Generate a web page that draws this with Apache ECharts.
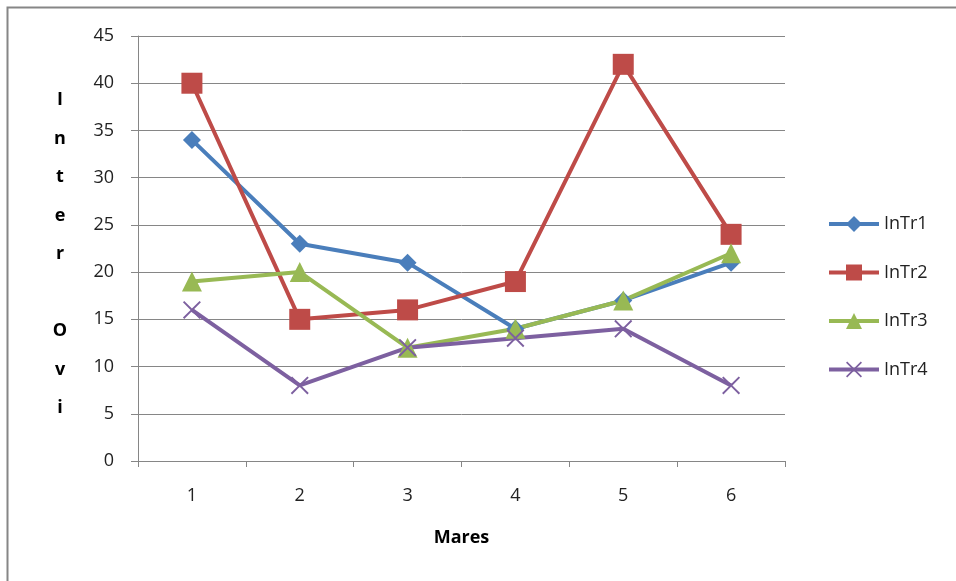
<!DOCTYPE html>
<html><head><meta charset="utf-8">
<script src="https://cdn.jsdelivr.net/npm/echarts@6/dist/echarts.min.js"></script>
<style>html,body{margin:0;padding:0;background:#fff}#c{width:956px;height:581px}</style>
</head><body><div id="c"></div>
<script>
const categories = ['1','2','3','4','5','6'];
const inTr1 = [34, 23, 21, 14, 17, 21];
const inTr2 = [40, 15, 16, 19, 42, 24];
const inTr3 = [19, 20, 12, 14, 17, 22];
const inTr4 = [16, 8, 12, 13, 14, 8];
const seriesNames = ['InTr1','InTr2','InTr3','InTr4'];
const xTitle = 'Mares';
const yTitleLetters = ['I','n','t','e','r','','O','v','i'];

const colors = ['#4A7EBB','#BE4B48','#98B954','#7D60A0'];
const font = '"Open Sans", "Noto Sans", sans-serif';
const xPath = 'path://M0,1.5 L1.5,0 L10,8.5 L18.5,0 L20,1.5 L11.5,10 L20,18.5 L18.5,20 L10,11.5 L1.5,20 L0,18.5 L8.5,10 Z';

const chart = echarts.init(document.getElementById('c'), null, {renderer:'canvas'});
const mk = (name, data, color, symbol, size) => ({
  name, type:'line', data, symbol, symbolSize:size, showSymbol:true,
  lineStyle:{color, width:4}, itemStyle:{color, borderWidth:0},
  emphasis:{disabled:true}, animation:false
});
chart.setOption({
  animation:false,
  color:colors,
  grid:{left:138, right:171, top:36, bottom:120, containLabel:false},
  xAxis:{
    type:'category', data:categories, boundaryGap:true,
    name:xTitle, nameLocation:'middle', nameGap:68,
    nameTextStyle:{fontFamily:font, fontSize:18, fontWeight:'bold', color:'#000'},
    axisLine:{lineStyle:{color:'#868686', width:1}},
    axisTick:{show:true, length:6, alignWithLabel:false, lineStyle:{color:'#868686'}},
    axisLabel:{margin:26, fontFamily:font, fontSize:18, color:'#222'},
    splitLine:{show:false}
  },
  yAxis:{
    type:'value', min:0, max:45, interval:5,
    axisLine:{show:true, lineStyle:{color:'#868686', width:1}},
    axisTick:{show:true, length:7, lineStyle:{color:'#868686'}},
    axisLabel:{margin:24, fontFamily:font, fontSize:18, color:'#222'},
    splitLine:{show:true, lineStyle:{color:'#868686', width:1}}
  },
  legend:{
    orient:'vertical', left:827, top:215, padding:0, itemWidth:50, itemHeight:20, itemGap:30.5,
    lineStyle:{width:4},
    textStyle:{fontFamily:font, fontSize:18, color:'#222'},
    data:seriesNames
  },
  graphic:[
    {type:'rect', silent:true, shape:{x:7.5, y:7.5, width:1200, height:1200},
     style:{fill:'none', stroke:'#868686', lineWidth:2}},
    {type:'text', silent:true, x:60, y:254,
     style:{text:yTitleLetters.join('\n'), fontFamily:font, fontSize:18, fontWeight:'bold',
            lineHeight:38.5, align:'center', verticalAlign:'middle', fill:'#000'}}
  ],
  series:[
    mk(seriesNames[0], inTr1, colors[0], 'diamond', 18),
    mk(seriesNames[1], inTr2, colors[1], 'rect', 21),
    mk(seriesNames[2], inTr3, colors[2], 'triangle', 20),
    mk(seriesNames[3], inTr4, colors[3], xPath, 18)
  ]
});
</script></body></html>
